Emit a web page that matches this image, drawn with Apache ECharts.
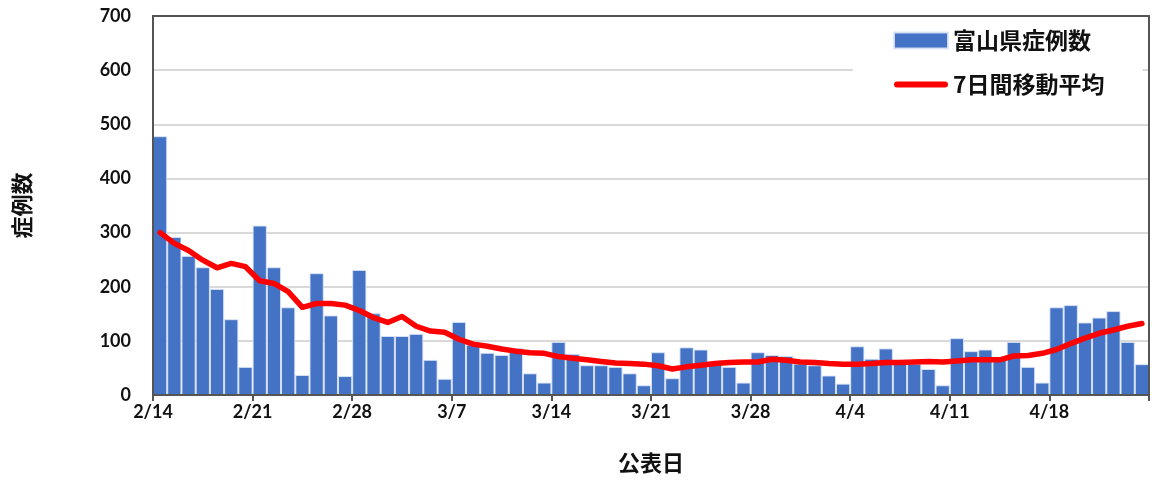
<!DOCTYPE html>
<html>
<head>
<meta charset="utf-8">
<script src="https://cdn.jsdelivr.net/npm/echarts@6/dist/echarts.min.js"></script>
<style>html,body{margin:0;padding:0;background:#fff;}#c{width:1152px;height:481px;}</style>
</head>
<body>
<div id="c"></div>
<script>
const dates = ["2/14","2/15","2/16","2/17","2/18","2/19","2/20","2/21","2/22","2/23","2/24","2/25","2/26","2/27","2/28",
"3/1","3/2","3/3","3/4","3/5","3/6","3/7","3/8","3/9","3/10","3/11","3/12","3/13","3/14","3/15","3/16","3/17","3/18","3/19","3/20",
"3/21","3/22","3/23","3/24","3/25","3/26","3/27","3/28","3/29","3/30","3/31","4/1","4/2","4/3","4/4","4/5","4/6","4/7","4/8","4/9","4/10",
"4/11","4/12","4/13","4/14","4/15","4/16","4/17","4/18","4/19","4/20","4/21","4/22","4/23","4/24"];
const cases = [478,292,257,236,196,140,52,313,236,162,37,225,147,35,231,151,109,109,113,65,30,135,93,78,74,87,40,23,98,76,55,55,52,40,18,79,31,88,84,57,52,23,79,74,72,58,55,36,21,90,67,86,60,58,48,18,105,81,84,68,98,52,23,162,166,134,143,155,98,57];
const avg7 = [300,280,267,249,235,243,237,211,206,191,162,169,169,166,156,143,134,145,127,118,116,103,94,90,85,81,78,77,71,68,65,62,59,58,57,54,48,52,55,58,60,61,61,66,64,61,60,58,57,57,58,60,60,61,62,61,63,65,65,65,72,73,77,84,95,105,114,120,127,132];
const tickLabels = ["2/14","2/21","2/28","3/7","3/14","3/21","3/28","4/4","4/11","4/18"];

const chart = echarts.init(document.getElementById('c'));
const numFont = 'Lato, "Noto Sans", sans-serif';
const jpFont = '"Noto Sans CJK JP", sans-serif';
const frame = {show: true, onZero: false, lineStyle: {color: '#555', width: 2}};
const frameAxis = {axisLine: frame, axisTick: {show: false}, axisLabel: {show: false}, splitLine: {show: false}, z: 5};
chart.setOption({
  animation: false,
  grid: {left: 153, right: 2, top: 16, bottom: 86},
  legend: {
    orient: 'vertical', left: 853, top: 20,
    padding: [9, 38, 12, 40],
    backgroundColor: '#fff',
    itemWidth: 54, itemHeight: 16, itemGap: 21,
    textStyle: {fontFamily: jpFont, fontWeight: 'bold', fontSize: 23, color: '#111'},
    data: [
      {name: '富山県症例数', icon: 'rect'},
      {name: '7日間移動平均', icon: 'path://M3,0 L51,0 A3,3 0 0 1 51,6 L3,6 A3,3 0 0 1 3,0 Z'}
    ]
  },
  xAxis: [{
    type: 'value', min: 0, max: 70, interval: 7, z: 5,
    name: '公表日', nameLocation: 'middle', nameGap: 57,
    nameTextStyle: {fontFamily: jpFont, fontWeight: 'bold', fontSize: 22, color: '#111'},
    axisLine: frame,
    axisTick: {show: true, length: 6, lineStyle: {color: '#555', width: 2}},
    axisLabel: {margin: 8, fontFamily: numFont, fontWeight: 'bold', fontSize: 18, color: '#111',
      formatter: v => tickLabels[Math.round(v / 7)] || ''},
    splitLine: {show: false}
  }, Object.assign({type: 'value', position: 'top', min: 0, max: 70}, frameAxis)],
  yAxis: [{
    type: 'value', min: 0, max: 700, interval: 100,
    name: '症例数', nameLocation: 'middle', nameGap: 120, nameRotate: 90,
    nameTextStyle: {fontFamily: jpFont, fontWeight: 'bold', fontSize: 22, color: '#111'},
    axisLine: {show: false}, axisTick: {show: false},
    axisLabel: {margin: 22, fontFamily: numFont, fontWeight: 'bold', fontSize: 18, color: '#111'},
    splitLine: {lineStyle: {color: '#d9d9d9', width: 2}}
  },
  Object.assign({type: 'value', position: 'right', min: 0, max: 700}, frameAxis),
  Object.assign({type: 'value', position: 'left', min: 0, max: 700}, frameAxis)],
  series: [
    {
      name: '富山県症例数', type: 'bar', barWidth: '100%',
      itemStyle: {color: '#4472C4', borderColor: 'rgba(220,230,248,0.9)', borderWidth: 1},
      data: cases.map((v, i) => [i + 0.5, v])
    },
    {
      name: '7日間移動平均', type: 'line', symbol: 'none', z: 5,
      lineStyle: {color: '#FF0000', width: 5.5, cap: 'round', join: 'round'},
      itemStyle: {color: '#FF0000'},
      data: avg7.map((v, i) => [i + 0.5, v])
    }
  ]
});
</script>
</body>
</html>
